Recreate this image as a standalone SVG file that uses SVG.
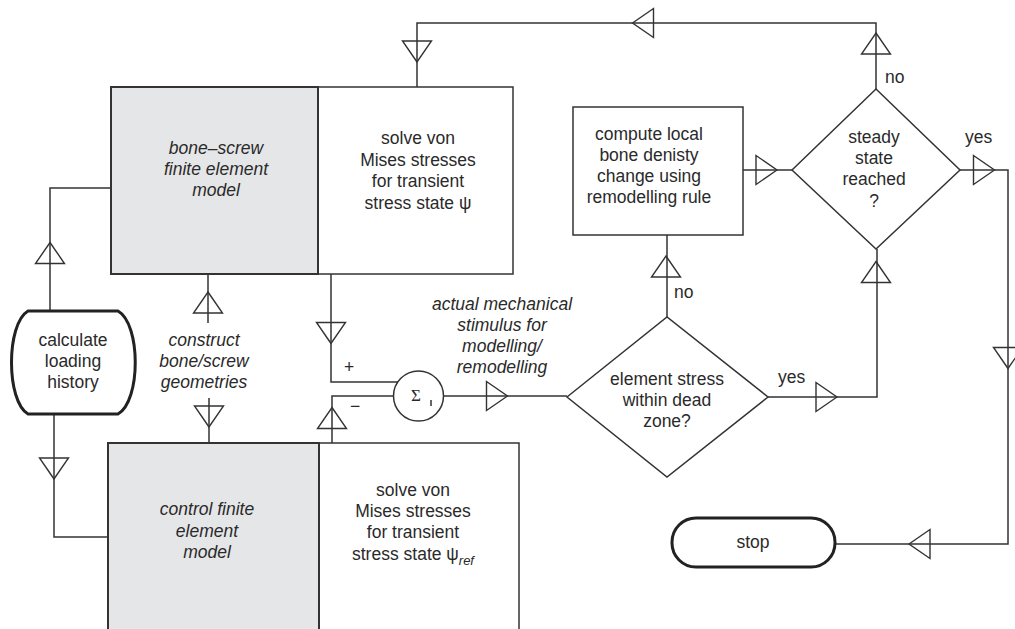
<svg xmlns="http://www.w3.org/2000/svg" xmlns:xlink="http://www.w3.org/1999/xlink" width="1015" height="629" viewBox="0 0 1015 629">
  <style>
    .ln { fill: none; stroke: #333; stroke-width: 1.5; }
    .box { fill: #fff; stroke: #333; stroke-width: 1.5; }
    .fe { fill: #e5e6e8; stroke: #333; stroke-width: 2; }
    .term { fill: #fff; stroke: #222; stroke-width: 3; }
    .tri { fill: none; stroke: #333; stroke-width: 1.4; stroke-linejoin: miter; }
    text { font-family: "Liberation Sans", Arial, sans-serif; font-size: 17.5px; fill: #2a2a2a; text-anchor: middle; }
    .it { font-style: italic; }
    .lbl { text-anchor: start; }
  </style>
  <defs>
    <!-- open flow triangle, pointing up, centred on its own origin -->
    <path id="tri" class="tri" d="M0,-10.5 L14.5,10.5 L-14.5,10.5 Z"/>
  </defs>

  <!-- connectors -->
  <g id="connectors">
    <path class="ln" d="M876,89 V23 H417 V87"/>
    <path class="ln" d="M111,188 H50 V311"/>
    <path class="ln" d="M54,414 V537 H108"/>
    <path class="ln" d="M208,274 V323"/>
    <path class="ln" d="M209,398 V443"/>
    <path class="ln" d="M331,274 V382 H398"/>
    <path class="ln" d="M332,443 V396 H393.5"/>
    <path class="ln" d="M443.5,396 H567"/>
    <path class="ln" d="M667,317 V235"/>
    <path class="ln" d="M743,170 H792"/>
    <path class="ln" d="M768,397 H877 V249"/>
    <path class="ln" d="M960,170 H1008 V544 H835"/>

    <use xlink:href="#tri" transform="translate(417,51.5) rotate(180)"/>
    <use xlink:href="#tri" transform="translate(50,253)"/>
    <use xlink:href="#tri" transform="translate(54,468.5) rotate(180)"/>
    <use xlink:href="#tri" transform="translate(208,302.5)"/>
    <use xlink:href="#tri" transform="translate(209,416.5) rotate(180)"/>
    <use xlink:href="#tri" transform="translate(331,333) rotate(180)"/>
    <use xlink:href="#tri" transform="translate(332,418)"/>
    <use xlink:href="#tri" transform="translate(497,396) rotate(90)"/>
    <use xlink:href="#tri" transform="translate(666,266.5)"/>
    <use xlink:href="#tri" transform="translate(766.5,170) rotate(90)"/>
    <use xlink:href="#tri" transform="translate(876,43.5)"/>
    <use xlink:href="#tri" transform="translate(643,23) rotate(-90)"/>
    <use xlink:href="#tri" transform="translate(984,170) rotate(90)"/>
    <use xlink:href="#tri" transform="translate(1008,358) rotate(180)"/>
    <use xlink:href="#tri" transform="translate(919.5,544) rotate(-90)"/>
    <use xlink:href="#tri" transform="translate(826.5,397) rotate(90)"/>
    <use xlink:href="#tri" transform="translate(876,272)"/>

    <text x="349" y="373">+</text>
    <text x="355" y="412">−</text>
    <text class="lbl" x="674" y="298">no</text>
    <text class="lbl" x="885" y="83">no</text>
    <text class="lbl" x="778" y="383">yes</text>
    <text class="lbl" x="965" y="143">yes</text>
  </g>

  <!-- bone-screw model -->
  <g id="bone-screw-model">
    <rect class="box" x="318" y="87" width="195" height="187"/>
    <rect class="fe" x="111" y="87" width="207" height="187"/>
    <text class="it" x="216" y="154">bone–screw</text>
    <text class="it" x="216" y="175">finite element</text>
    <text class="it" x="216" y="196">model</text>
    <text x="418" y="144">solve von</text>
    <text x="418" y="166">Mises stresses</text>
    <text x="418" y="187">for transient</text>
    <text x="418" y="209">stress state ψ</text>
  </g>

  <!-- control model -->
  <g id="control-model">
    <rect class="box" x="319" y="443" width="200" height="200"/>
    <rect class="fe" x="108" y="443" width="211" height="200"/>
    <text class="it" x="207" y="515">control finite</text>
    <text class="it" x="207" y="537">element</text>
    <text class="it" x="207" y="558">model</text>
    <text x="413" y="496">solve von</text>
    <text x="413" y="517">Mises stresses</text>
    <text x="413" y="538">for transient</text>
    <text x="413" y="560">stress state ψ<tspan class="it" font-size="13" dy="5">ref</tspan></text>
  </g>

  <!-- loading history -->
  <g id="loading-history">
    <path class="term" d="M28,311 H118 C141,324 141,401 118,414 H28 C6,401 6,324 28,311 Z"/>
    <text x="73" y="346">calculate</text>
    <text x="73" y="367">loading</text>
    <text x="73" y="388">history</text>
  </g>

  <!-- geometry step label -->
  <g id="construct-geometries">
    <text class="it" x="204" y="346">construct</text>
    <text class="it" x="204" y="367">bone/screw</text>
    <text class="it" x="204" y="388">geometries</text>
  </g>

  <!-- summing junction -->
  <g id="sum">
    <circle class="box" cx="418.5" cy="396" r="25"/>
    <text x="416" y="401" style="font-family:'Liberation Serif',serif;font-size:17px">Σ</text>
    <path class="ln" d="M431,400 V406" stroke-width="0.8"/>
  </g>

  <!-- stimulus label -->
  <g id="stimulus">
    <text class="it" x="502" y="310">actual mechanical</text>
    <text class="it" x="502" y="331">stimulus for</text>
    <text class="it" x="502" y="352">modelling/</text>
    <text class="it" x="502" y="373">remodelling</text>
  </g>

  <!-- dead zone decision -->
  <g id="dead-zone">
    <path class="box" d="M567,397 L667,317 L768,397 L667,477 Z"/>
    <text x="667" y="385">element stress</text>
    <text x="667" y="406">within dead</text>
    <text x="667" y="427">zone?</text>
  </g>

  <!-- remodelling step -->
  <g id="remodelling">
    <rect class="box" x="573" y="107" width="170" height="128"/>
    <text x="649" y="140">compute local</text>
    <text x="649" y="161">bone denisty</text>
    <text x="649" y="182">change using</text>
    <text x="649" y="203">remodelling rule</text>
  </g>

  <!-- steady state decision -->
  <g id="steady-state">
    <path class="box" d="M792,170 L876,89 L960,170 L876,249 Z"/>
    <text x="874" y="143">steady</text>
    <text x="874" y="164">state</text>
    <text x="874" y="185">reached</text>
    <text x="874" y="207">?</text>
  </g>

  <!-- stop -->
  <g id="stop">
    <rect class="term" x="672" y="518" width="163" height="49" rx="24" ry="24"/>
    <text x="753" y="548">stop</text>
  </g>
</svg>
